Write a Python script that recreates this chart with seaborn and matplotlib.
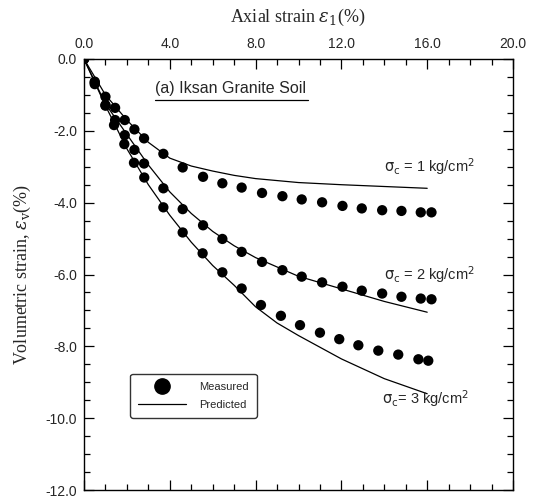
import numpy as np
import pandas as pd
import matplotlib
matplotlib.use("Agg")
import matplotlib.pyplot as plt
from matplotlib.lines import Line2D
from matplotlib.ticker import MultipleLocator, FormatStrFormatter
import seaborn as sns

# ---- measured data ----
x_meas_12 = [0, 0.5, 1.0, 1.45, 1.9, 2.35, 2.8, 3.7, 4.6, 5.55, 6.45, 7.35, 8.3,
             9.25, 10.15, 11.1, 12.05, 12.95, 13.9, 14.8, 15.7, 16.2]
y_meas_1 = [0, -0.63, -1.05, -1.36, -1.70, -1.96, -2.21, -2.64, -3.02, -3.28, -3.46,
            -3.58, -3.73, -3.82, -3.91, -3.99, -4.09, -4.16, -4.21, -4.23, -4.27, -4.27]
y_meas_2 = [0, -0.66, -1.28, -1.70, -2.12, -2.53, -2.91, -3.60, -4.18, -4.63, -5.01,
            -5.37, -5.65, -5.88, -6.06, -6.22, -6.34, -6.45, -6.53, -6.62, -6.67, -6.69]
x_meas_3 = [0, 0.5, 1.0, 1.4, 1.88, 2.33, 2.81, 3.7, 4.6, 5.53, 6.45, 7.35, 8.25,
            9.18, 10.07, 11.0, 11.9, 12.79, 13.72, 14.65, 15.59, 16.05]
y_meas_3 = [0, -0.70, -1.30, -1.84, -2.37, -2.89, -3.30, -4.13, -4.83, -5.41, -5.94,
            -6.39, -6.85, -7.15, -7.41, -7.62, -7.80, -7.97, -8.12, -8.23, -8.36, -8.40]

# ---- predicted curves ----
x_pred_12 = [0, 1, 2, 3, 4, 5, 6, 7, 8, 10, 12, 14, 16]
y_pred_1 = [0, -1.0, -1.7, -2.32, -2.76, -2.98, -3.12, -3.24, -3.33, -3.44, -3.5, -3.55, -3.6]
y_pred_2 = [0, -1.25, -2.1, -2.95, -3.7, -4.3, -4.8, -5.2, -5.53, -6.05, -6.4, -6.75, -7.05]
x_pred_3 = [0, 1, 2, 3, 4, 5, 6, 7, 8, 9, 10, 12, 14, 16]
y_pred_3 = [0, -1.3, -2.5, -3.5, -4.35, -5.1, -5.75, -6.3, -6.9, -7.35, -7.7, -8.35, -8.9, -9.32]

x_ticks = [0.0, 4.0, 8.0, 12.0, 16.0, 20.0]
y_ticks = [0.0, -2.0, -4.0, -6.0, -8.0, -10.0, -12.0]

meas = pd.concat([
    pd.DataFrame({"x": x_meas_12, "y": y_meas_1, "s": "1"}),
    pd.DataFrame({"x": x_meas_12, "y": y_meas_2, "s": "2"}),
    pd.DataFrame({"x": x_meas_3, "y": y_meas_3, "s": "3"}),
])
pred = pd.concat([
    pd.DataFrame({"x": x_pred_12, "y": y_pred_1, "s": "1"}),
    pd.DataFrame({"x": x_pred_12, "y": y_pred_2, "s": "2"}),
    pd.DataFrame({"x": x_pred_3, "y": y_pred_3, "s": "3"}),
])

sns.set_style("white")
plt.rcParams["font.family"] = ["Liberation Sans", "DejaVu Sans"]
plt.rcParams["mathtext.fontset"] = "dejavuserif"

fig = plt.figure(figsize=(5.34, 5.03), dpi=100)
ax = fig.add_axes([84 / 534, 1 - 490 / 503, 429 / 534, 431 / 503])

sns.lineplot(data=pred, x="x", y="y", units="s", estimator=None, color="black",
             lw=0.9, ax=ax, legend=False, sort=False)
sns.scatterplot(data=meas, x="x", y="y", color="black", s=55, edgecolor="none",
                ax=ax, legend=False, zorder=3)

ax.set_xlim(0, 20)
ax.set_ylim(-12, 0)
ax.set_xticks(x_ticks)
ax.set_yticks(y_ticks)
ax.xaxis.set_minor_locator(MultipleLocator(1))
ax.yaxis.set_minor_locator(MultipleLocator(0.5))
ax.xaxis.set_major_formatter(FormatStrFormatter("%.1f"))
ax.yaxis.set_major_formatter(FormatStrFormatter("%.1f"))
ax.tick_params(which="both", direction="in", top=True, bottom=True, left=True, right=True,
               labeltop=True, labelbottom=False, color="black", width=0.9, labelsize=10)
ax.tick_params(axis="x", which="major", pad=6)
ax.tick_params(axis="y", which="major", pad=5)
ax.tick_params(which="major", length=7)
ax.tick_params(which="minor", length=4)
for sp in ax.spines.values():
    sp.set_color("black")
    sp.set_linewidth(1.0)

ax.set_xlabel("")
ax.set_ylabel("")
fig.text(298 / 534, 1 - 17 / 503, r"Axial strain $\varepsilon_1$(%)", ha="center", va="center",
         fontsize=13, family=["Liberation Serif", "DejaVu Serif"])
fig.text(22 / 534, 1 - 275 / 503, r"Volumetric strain, $\varepsilon_\mathrm{v}$(%)", ha="center",
         va="center", rotation=90, fontsize=13, family=["Liberation Serif", "DejaVu Serif"])

ax.text(0.166, 0.913, "(a) Iksan Granite Soil", transform=ax.transAxes, fontsize=11.5,
        ha="left", va="bottom")
ax.plot([0.166, 0.523], [0.905, 0.905], transform=ax.transAxes, color="black", lw=0.9)

lab_kw = dict(fontsize=10.5, ha="left", va="center", family=["Liberation Sans", "DejaVu Sans"])
ax.text(14.0, -3.0, r"$\mathsf{\sigma_c}$ = 1 kg/cm$^\mathsf{2}$", **lab_kw)
ax.text(14.0, -6.0, r"$\mathsf{\sigma_c}$ = 2 kg/cm$^\mathsf{2}$", **lab_kw)
ax.text(13.9, -9.45, r"$\mathsf{\sigma_c}$= 3 kg/cm$^\mathsf{2}$", **lab_kw)

handles = [Line2D([], [], marker="o", color="black", ls="none", markersize=11),
           Line2D([], [], color="black", lw=0.9)]
leg = ax.legend(handles, ["Measured", "Predicted"], loc="lower left",
                bbox_to_anchor=(0.095, 0.155), fontsize=8, frameon=True, fancybox=True,
                edgecolor="black", handlelength=4.3, handletextpad=1.2, borderpad=0.7,
                labelspacing=0.75)
leg.get_frame().set_linewidth(1.0)

fig.savefig("out.png", dpi=100, facecolor="white")
